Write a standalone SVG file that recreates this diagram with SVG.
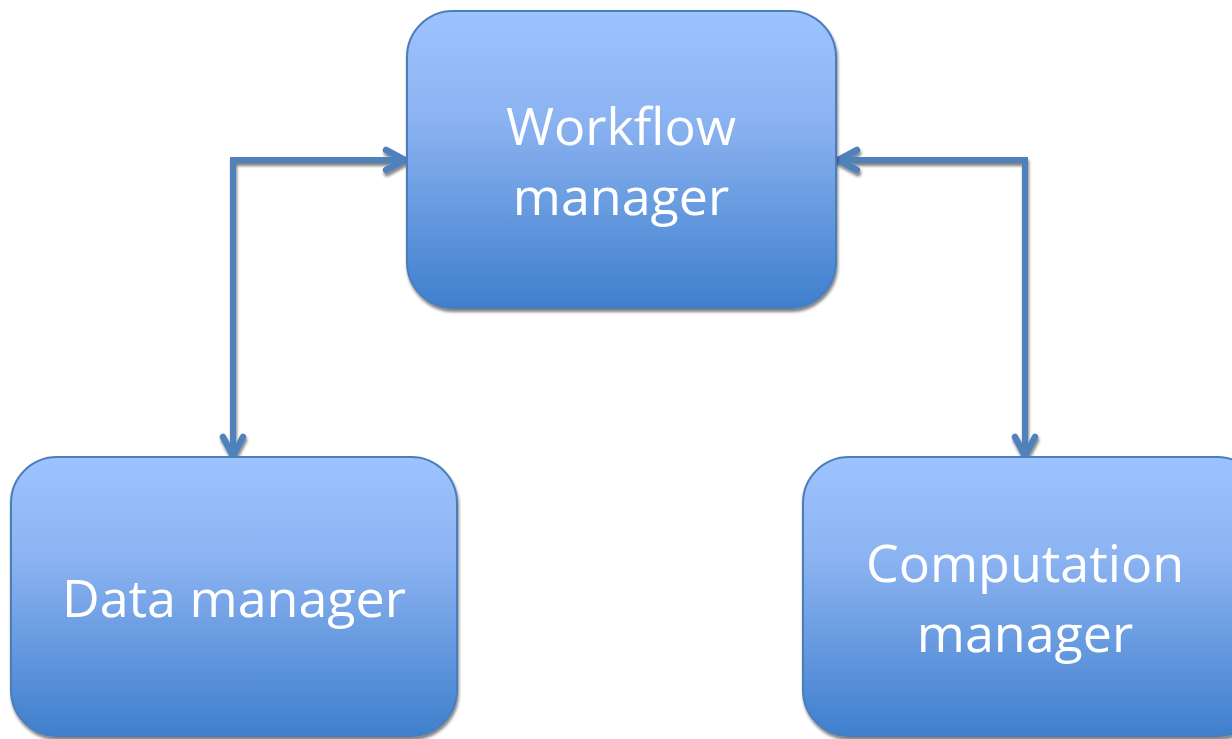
<svg xmlns="http://www.w3.org/2000/svg" width="1232" height="739" viewBox="0 0 1232 739">
  <defs>
    <linearGradient id="g" x1="0" y1="0" x2="0" y2="1">
      <stop offset="0" stop-color="#9dc3ff"/>
      <stop offset="0.35" stop-color="#8db4f2"/>
      <stop offset="1" stop-color="#3f7fcd"/>
    </linearGradient>
    <filter id="sh" x="-5%" y="-5%" width="110%" height="115%">
      <feGaussianBlur in="SourceAlpha" stdDeviation="1.5"/>
      <feOffset dx="1" dy="3" result="b"/>
      <feComponentTransfer><feFuncA type="linear" slope="0.5"/></feComponentTransfer>
      <feMerge><feMergeNode/><feMergeNode in="SourceGraphic"/></feMerge>
    </filter>
    <marker id="ah" viewBox="0 0 28 28" refX="24" refY="14" markerWidth="28" markerHeight="28" markerUnits="userSpaceOnUse" orient="auto-start-reverse">
      <path d="M5,4 L24,14 L5,24" fill="none" stroke="#4f81bd" stroke-width="6.5" stroke-linecap="round" stroke-linejoin="miter"/>
    </marker>
  </defs>
  <style>
    .box { fill: url(#g); stroke: #4a7ebb; stroke-width: 2; filter: url(#sh); }
    .lbl { font-family: "Open Sans", "Liberation Sans", sans-serif; font-size: 52px; fill: #ffffff; text-anchor: middle; }
    .conn { fill: none; stroke: #4f81bd; stroke-width: 6; stroke-linejoin: miter; marker-start: url(#ah); marker-end: url(#ah); }
  </style>
  <g id="connectors" filter="url(#sh)">
    <path class="conn" d="M233,456 L233,160 L405,160"/>
    <path class="conn" d="M1025,456 L1025,160 L838,160"/>
  </g>
  <g id="workflow">
    <rect class="box" x="407" y="11" width="429" height="297" rx="46" ry="46"/>
    <text class="lbl" x="621" y="145">Workflow</text>
    <text class="lbl" x="621" y="215">manager</text>
  </g>
  <g id="data">
    <rect class="box" x="11" y="457" width="446" height="279" rx="46" ry="46"/>
    <text class="lbl" x="234" y="617">Data manager</text>
  </g>
  <g id="computation">
    <rect class="box" x="803" y="457" width="460" height="279" rx="46" ry="46"/>
    <text class="lbl" x="1025" y="582">Computation</text>
    <text class="lbl" x="1025" y="652">manager</text>
  </g>
</svg>
